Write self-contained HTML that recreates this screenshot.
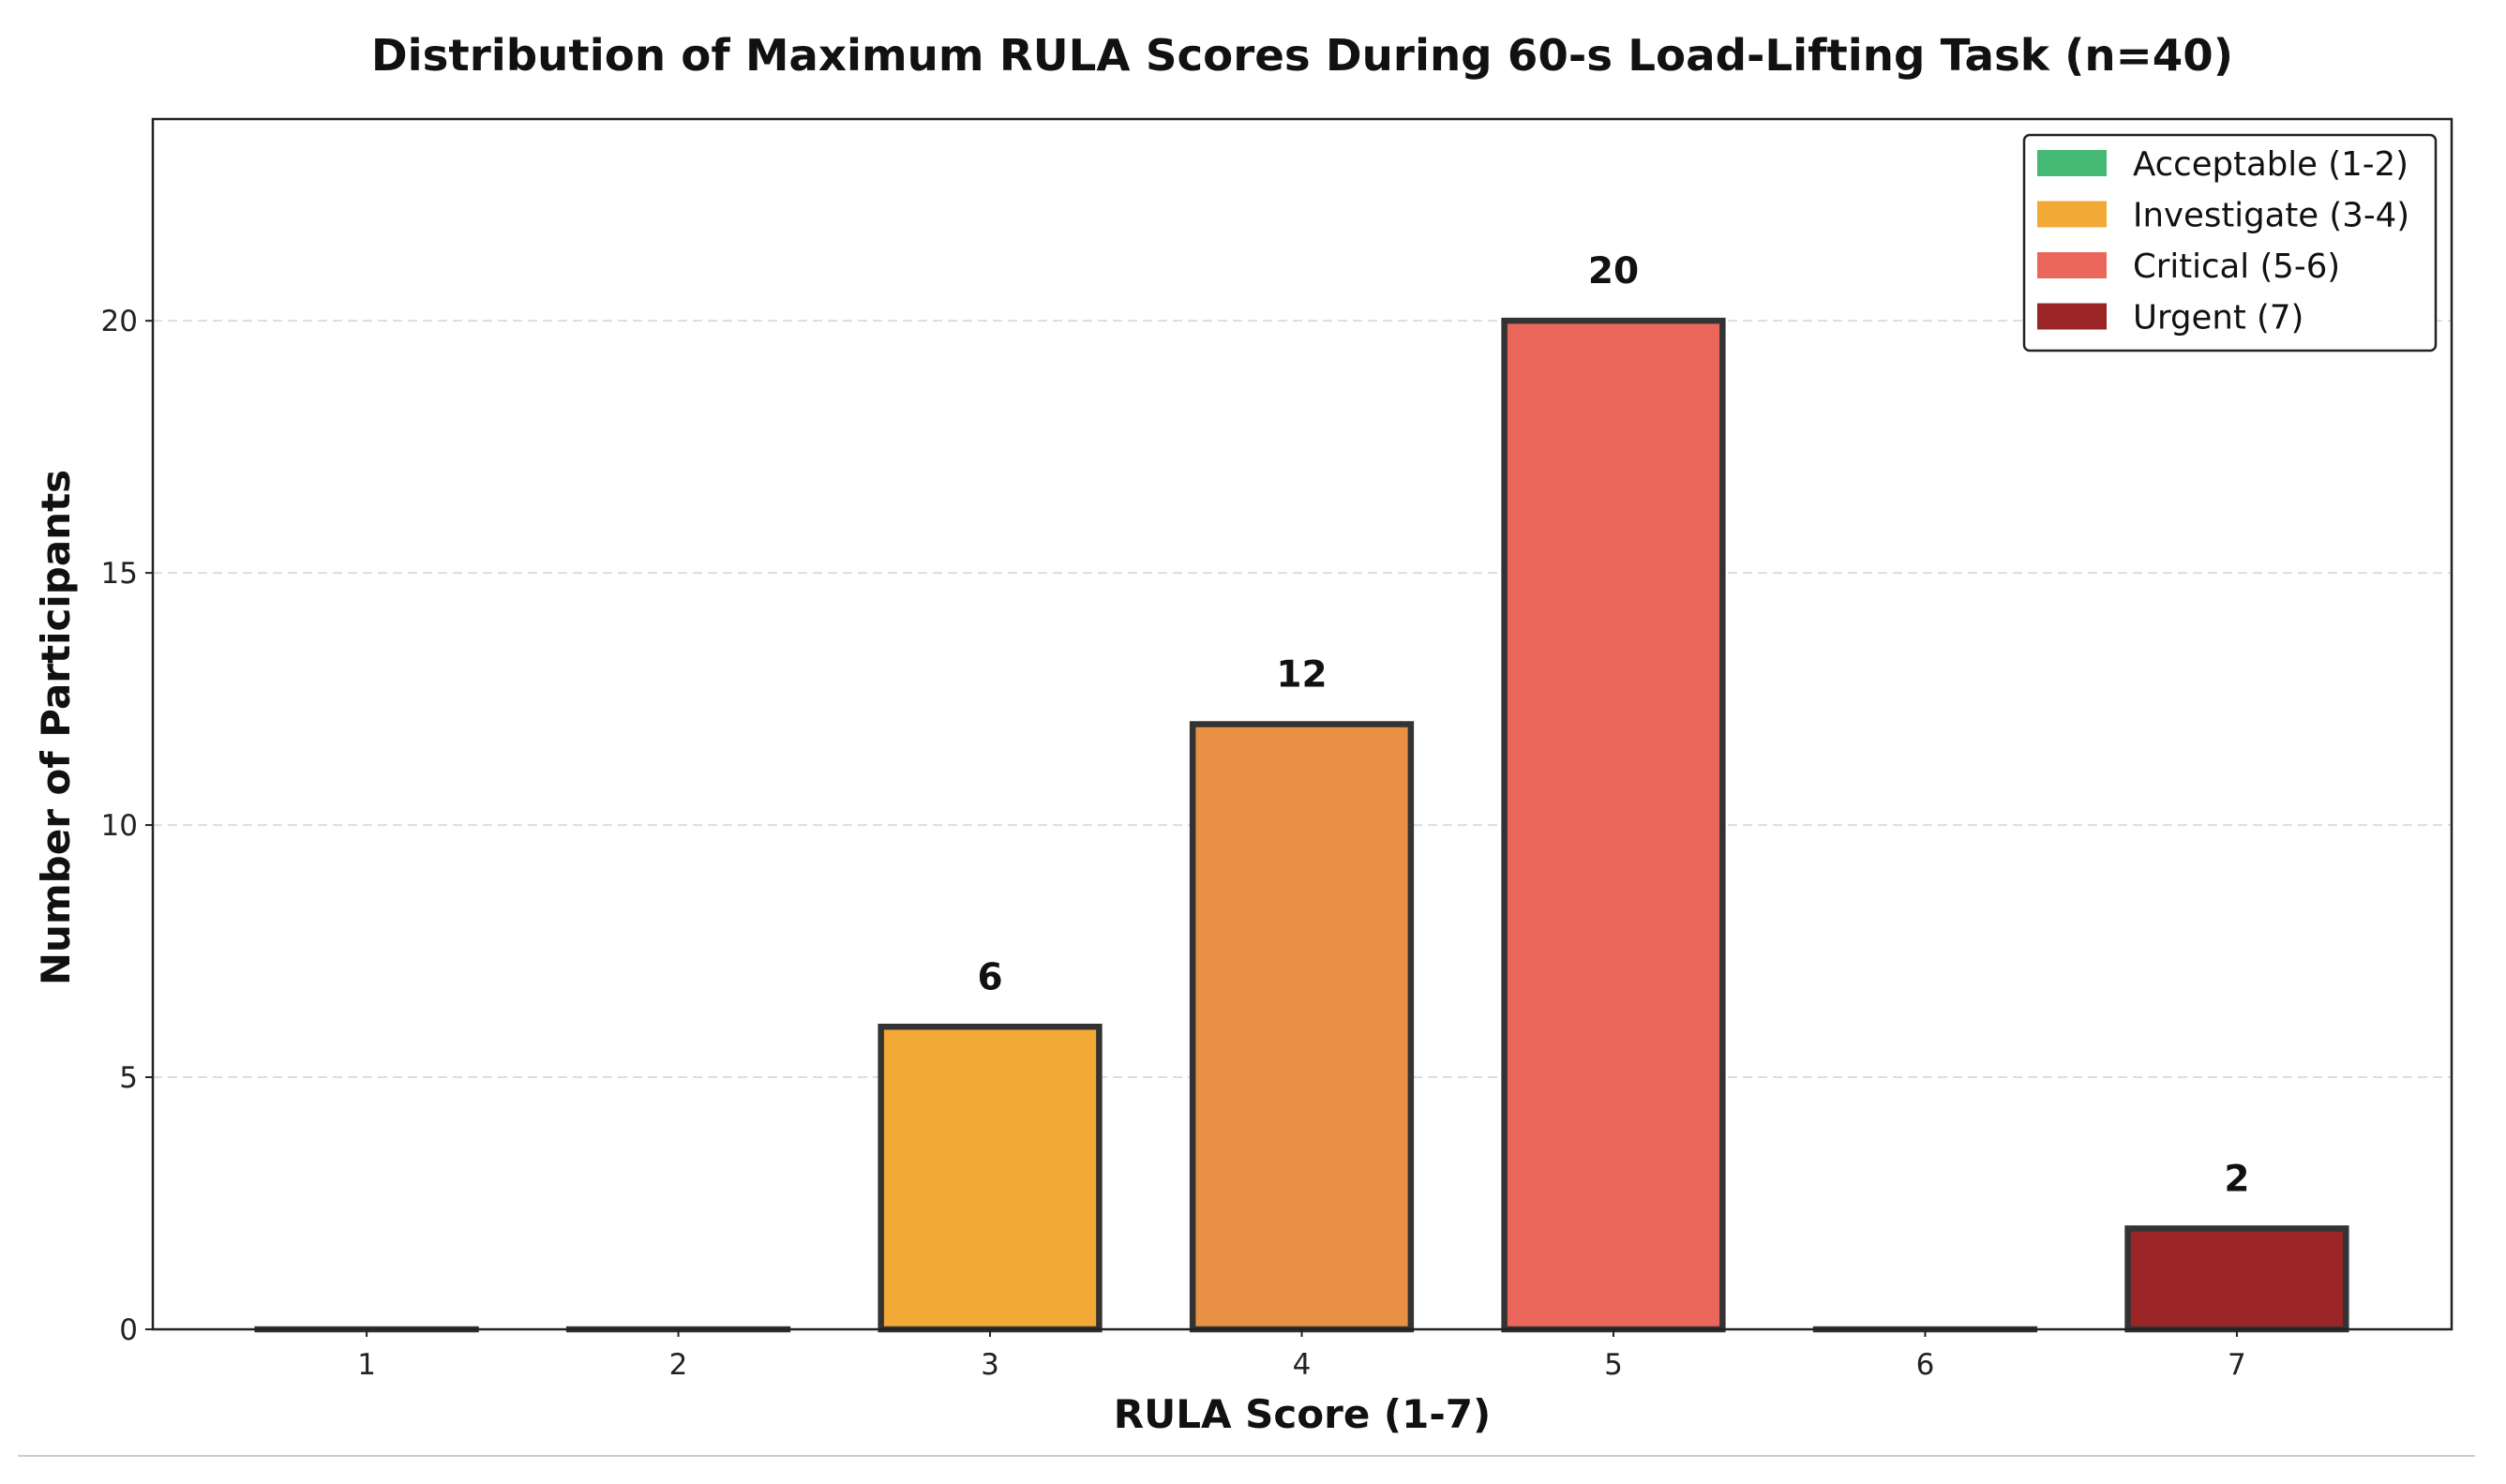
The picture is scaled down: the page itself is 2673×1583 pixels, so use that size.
<!DOCTYPE html>
<html><head><meta charset="utf-8"><style>
html,body{margin:0;padding:0;background:#fff;}
svg{display:block;font-family:"DejaVu Sans","Liberation Sans",sans-serif;}
</style></head><body>
<svg id="chart" width="2673" height="1583" viewBox="0 0 2673 1583">
<text x="1389" y="75" text-anchor="middle" font-size="46.7" font-weight="bold" fill="#111">Distribution of Maximum RULA Scores During 60-s Load-Lifting Task (n=40)</text>
<g id="grid"></g>
<g id="bars"></g>
<g id="labels"></g>
<rect x="163" y="127" width="2452" height="1291" fill="none" stroke="#222" stroke-width="2.5"/>
<g id="xticks"></g>
<g id="yticks"></g>
<text x="1389" y="1523" text-anchor="middle" font-size="42" font-weight="bold" fill="#111">RULA Score (1-7)</text>
<text transform="translate(74,776) rotate(-90)" text-anchor="middle" font-size="42" font-weight="bold" fill="#111">Number of Participants</text>
<g>
<rect x="2159" y="144" width="439" height="230" rx="6" fill="#fff" stroke="#222" stroke-width="2.5"/>
<g id="legend"></g>
</g>
<line x1="19" y1="1553" x2="2640" y2="1553" stroke="#ccc" stroke-width="2"/>
</svg>
<script>
const categories = [1,2,3,4,5,6,7];
const counts = [0,0,6,12,20,0,2];
const barColors = ["#45b874","#45b874","#f2a936","#e89144","#eb675b","#eb675b","#9b2426"];
const yTicks = [0,5,10,15,20];
const legendLabels = ["Acceptable (1-2)","Investigate (3-4)","Critical (5-6)","Urgent (7)"];
const legendColors = ["#45b874","#f2a936","#eb675b","#9b2426"];

const NS="http://www.w3.org/2000/svg";
const L=163,R=2615,T=127,B=1418;
const xMin=0.314,xMax=7.689,yMax=24;
const xs=v=>L+(v-xMin)/(xMax-xMin)*(R-L);
const ys=v=>B-v/yMax*(B-T);
function mk(tag,attrs,parent){const e=document.createElementNS(NS,tag);for(const k in attrs)e.setAttribute(k,attrs[k]);parent.appendChild(e);return e;}
const gGrid=document.getElementById('grid'),gBars=document.getElementById('bars'),gLab=document.getElementById('labels'),gX=document.getElementById('xticks'),gY=document.getElementById('yticks'),gLeg=document.getElementById('legend');
yTicks.forEach(t=>{
  if(t>0){const gl=mk('line',{x1:L,x2:R,y1:ys(t),y2:ys(t),stroke:'#ddd','stroke-width':2,'stroke-dasharray':'10 6'},gGrid);
  
  }
  const tk=mk('line',{x1:L-8,x2:L,y1:ys(t),y2:ys(t),stroke:'#222','stroke-width':2},gY);
  
  
  const tx=mk('text',{x:L-16,y:ys(t)+11,'text-anchor':'end','font-size':31,fill:'#222'},gY);
  tx.textContent=t;
  
  
});
const bw=0.7;
categories.forEach((c,i)=>{
  const x0=xs(c-bw/2),x1=xs(c+bw/2),y0=ys(counts[i]);
  const r=mk('rect',{x:x0,y:y0,width:x1-x0,height:Math.max(B-y0,0.01),fill:barColors[i],stroke:'#333','stroke-width':6.5},gBars);
  
  
  if(counts[i]>0){
    const t=mk('text',{x:xs(c),y:y0-40,'text-anchor':'middle','font-size':39,'font-weight':'bold',fill:'#111'},gLab);
    t.textContent=counts[i];
    
    
  }
  const tk=mk('line',{x1:xs(c),x2:xs(c),y1:B,y2:B+8,stroke:'#222','stroke-width':2},gX);
  
  
  const tx=mk('text',{x:xs(c),y:B+48,'text-anchor':'middle','font-size':31,fill:'#222'},gX);
  tx.textContent=c;
  
  
});
legendLabels.forEach((lab,i)=>{
  const y=160+i*54.5;
  const sw=mk('rect',{x:2173,y:y,width:74,height:28,fill:legendColors[i]},gLeg);
  
  
  const t=mk('text',{x:2275,y:y+27,'font-size':35.5,fill:'#111'},gLeg);
  t.textContent=lab;
  
  
});
</script>
</body></html>
